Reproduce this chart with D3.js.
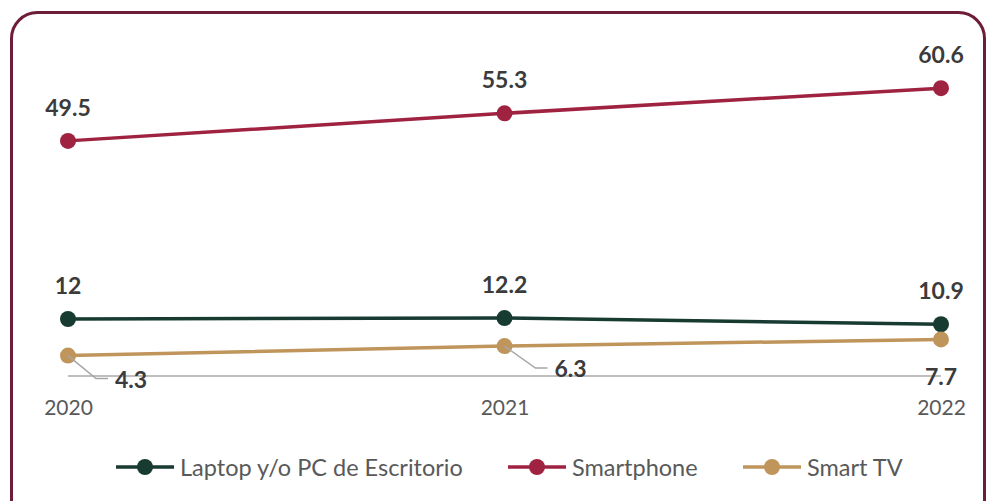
<!DOCTYPE html>
<html>
<head>
<meta charset="utf-8">
<script src="https://cdn.jsdelivr.net/npm/d3@7"></script>
<style>
  html, body { margin: 0; padding: 0; background: #fff; }
  svg { display: block; font-family: Lato, "Open Sans", sans-serif; }
</style>
</head>
<body>
<div id="chart"></div>
<script>
// datos
const years = ["2020", "2021", "2022"];
const laptop = [12, 12.2, 10.9];
const smartphone = [49.5, 55.3, 60.6];
const smartTV = [4.3, 6.3, 7.7];
const seriesNames = ["Laptop y/o PC de Escritorio", "Smartphone", "Smart TV"];
const seriesColors = ["#173a31", "#9f2241", "#bf955b"];

const width = 987, height = 501;

const svg = d3.select("#chart").append("svg")
  .attr("width", width)
  .attr("height", height);

// marco redondeado
svg.append("rect")
  .attr("x", 11.5).attr("y", 12.5)
  .attr("width", 973).attr("height", 520)
  .attr("rx", 26)
  .attr("fill", "none")
  .attr("stroke", "#6e1d36")
  .attr("stroke-width", 3);

const x = d3.scalePoint().domain(years).range([68, 941]);
const y = d3.scaleLinear().domain([0, 70]).range([376, 43.5]);

// linea base
svg.append("line")
  .attr("x1", x(years[0])).attr("x2", x(years[2]))
  .attr("y1", y(0)).attr("y2", y(0))
  .attr("stroke", "#bfbfbf").attr("stroke-width", 2);

// eje x
const xAxis = svg.append("g")
  .attr("transform", `translate(0,${y(0)})`)
  .call(d3.axisBottom(x).tickSize(0).tickPadding(24));
xAxis.select(".domain").remove();
xAxis.selectAll("text")
  .attr("fill", "#595959")
  .style("font-size", "21px")
  .style("font-family", "Lato, sans-serif");

const series = [laptop, smartphone, smartTV];
const line = d3.line().x((d, i) => x(years[i])).y(d => y(d));

series.forEach((vals, s) => {
  svg.append("path")
    .datum(vals)
    .attr("d", line)
    .attr("fill", "none")
    .attr("stroke", seriesColors[s])
    .attr("stroke-width", 3.5);
  svg.selectAll(null).data(vals).enter().append("circle")
    .attr("cx", (d, i) => x(years[i]))
    .attr("cy", d => y(d))
    .attr("r", 8)
    .attr("fill", seriesColors[s]);
});

// etiquetas arriba (laptop, smartphone)
[laptop, smartphone].forEach(vals => {
  svg.selectAll(null).data(vals).enter().append("text")
    .attr("x", (d, i) => x(years[i]))
    .attr("y", d => y(d) - 34)
    .attr("text-anchor", "middle")
    .attr("dominant-baseline", "central")
    .attr("font-size", 23)
    .attr("font-weight", "bold")
    .attr("fill", "#3b3b3b")
    .text(d => d);
});

// etiquetas smart tv con guias
const tvLabelPos = [
  { dx: 47, dy: 23, lead: true },
  { dx: 50, dy: 22, lead: true },
  { dx: 0, dy: 37, lead: false }
];
smartTV.forEach((v, i) => {
  const px = x(years[i]), py = y(v), p = tvLabelPos[i];
  if (p.lead) {
    svg.append("polyline")
      .attr("points", `${px},${py} ${px + p.dx - 19},${py + p.dy} ${px + p.dx - 7},${py + p.dy}`)
      .attr("fill", "none")
      .attr("stroke", "#a6a6a6")
      .attr("stroke-width", 1.5);
  }
  svg.append("text")
    .attr("x", px + p.dx)
    .attr("y", py + p.dy)
    .attr("text-anchor", p.lead ? "start" : "middle")
    .attr("dominant-baseline", "central")
    .attr("font-size", 23)
    .attr("font-weight", "bold")
    .attr("fill", "#3b3b3b")
    .text(v);
});

// leyenda
const legendX = [116, 508, 743];
const legend = svg.selectAll(".leg").data(seriesNames).enter().append("g")
  .attr("class", "leg")
  .attr("transform", (d, i) => `translate(${legendX[i]},467)`);
legend.append("line")
  .attr("x1", 0).attr("x2", 58)
  .attr("stroke", (d, i) => seriesColors[i])
  .attr("stroke-width", 3.5);
legend.append("circle")
  .attr("cx", 29).attr("r", 8)
  .attr("fill", (d, i) => seriesColors[i]);
legend.append("text")
  .attr("x", 64)
  .attr("dominant-baseline", "central")
  .attr("font-size", 23.5)
  .attr("fill", "#595959")
  .text(d => d);
</script>
</body>
</html>
